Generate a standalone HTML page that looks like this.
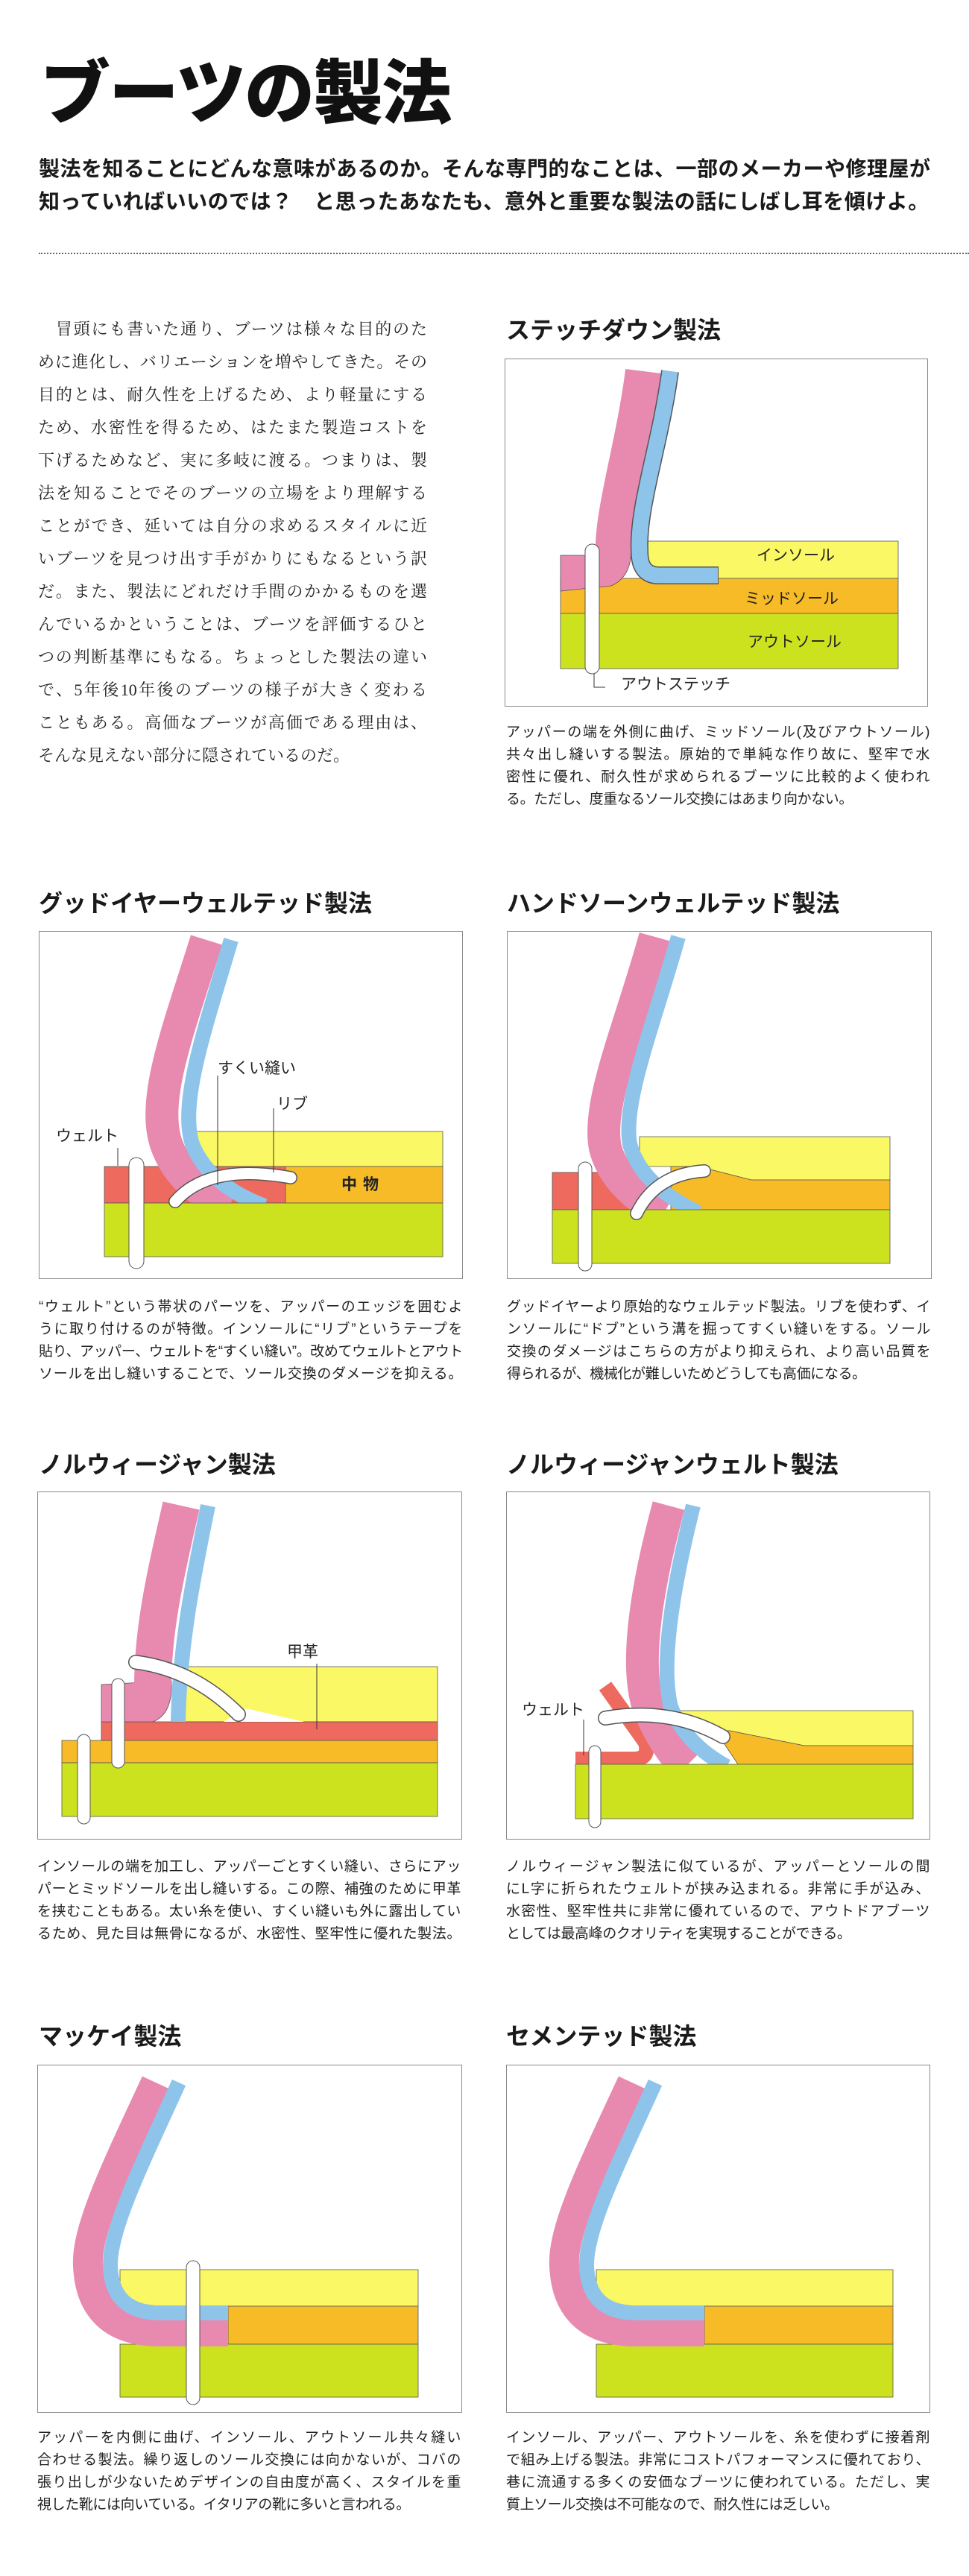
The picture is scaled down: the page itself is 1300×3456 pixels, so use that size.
<!DOCTYPE html>
<html><head><meta charset="utf-8">
<style>
*{margin:0;padding:0;box-sizing:border-box}
body{width:1300px;height:3456px;background:#fff;position:relative;overflow:hidden;font-family:"Liberation Sans","Noto Sans CJK JP",sans-serif;color:#222}
.a{position:absolute;white-space:nowrap}
.title{left:54px;top:76px;font-size:94px;line-height:100px;font-weight:900;color:#111;letter-spacing:-2px}
.sub{left:52px;top:205px;font-size:28px;line-height:44px;font-weight:700;color:#1a1a1a;letter-spacing:0.5px}
.dots{position:absolute;left:52px;top:339px;width:1248px;border-top:2px dotted #666}
.body{left:51px;top:420px;width:522px;font-family:"Liberation Serif","Noto Serif CJK SC",serif;font-size:22px;line-height:44px;color:#222}
.body div,.cap div{text-align:justify;text-align-last:justify;white-space:nowrap}
.body div.l,.cap div.l{text-align-last:left}
.h{font-size:32px;line-height:40px;font-weight:700;color:#1a1a1a}
.cap{width:568px;font-size:19px;line-height:30px;color:#222;letter-spacing:-0.4px}
.box{position:absolute;border:1.5px solid #8a8a8a;background:#fff}
.lb{position:absolute;font-size:21px;line-height:24px;color:#222;white-space:nowrap}
</style></head><body>

<div class="a title">ブーツの製法</div>
<div class="a sub">製法を知ることにどんな意味があるのか。そんな専門的なことは、一部のメーカーや修理屋が<br>知っていればいいのでは？　と思ったあなたも、意外と重要な製法の話にしばし耳を傾けよ。</div>
<div class="dots"></div>

<div class="a body">
<div>　冒頭にも書いた通り、ブーツは様々な目的のた</div>
<div>めに進化し、バリエーションを増やしてきた。その</div>
<div>目的とは、耐久性を上げるため、より軽量にする</div>
<div>ため、水密性を得るため、はたまた製造コストを</div>
<div>下げるためなど、実に多岐に渡る。つまりは、製</div>
<div>法を知ることでそのブーツの立場をより理解する</div>
<div>ことができ、延いては自分の求めるスタイルに近</div>
<div>いブーツを見つけ出す手がかりにもなるという訳</div>
<div>だ。また、製法にどれだけ手間のかかるものを選</div>
<div>んでいるかということは、ブーツを評価するひと</div>
<div>つの判断基準にもなる。ちょっとした製法の違い</div>
<div>で、5年後10年後のブーツの様子が大きく変わる</div>
<div>こともある。高価なブーツが高価である理由は、</div>
<div class="l">そんな見えない部分に隠されているのだ。</div>
</div>

<div class="a h" style="left:679px;top:423px">ステッチダウン製法</div>
<div class="a h" style="left:52px;top:1192px">グッドイヤーウェルテッド製法</div>
<div class="a h" style="left:680px;top:1192px">ハンドソーンウェルテッド製法</div>
<div class="a h" style="left:52px;top:1945px">ノルウィージャン製法</div>
<div class="a h" style="left:679px;top:1945px">ノルウィージャンウェルト製法</div>
<div class="a h" style="left:52px;top:2712px">マッケイ製法</div>
<div class="a h" style="left:679px;top:2712px">セメンテッド製法</div>

<div class="box" style="left:677px;top:481px;width:568px;height:467px"></div>
<div class="box" style="left:52px;top:1249px;width:569px;height:467px"></div>
<div class="box" style="left:680px;top:1249px;width:570px;height:467px"></div>
<div class="box" style="left:50px;top:2001px;width:570px;height:467px"></div>
<div class="box" style="left:679px;top:2001px;width:569px;height:467px"></div>
<div class="box" style="left:50px;top:2770px;width:570px;height:467px"></div>
<div class="box" style="left:679px;top:2770px;width:569px;height:467px"></div>

<svg width="1300" height="3456" style="position:absolute;left:0;top:0" xmlns="http://www.w3.org/2000/svg">
<g stroke="#555" stroke-width="0.8">
<rect x="866" y="726" width="339" height="50" fill="#fbf865"/>
<rect x="752" y="776" width="453" height="47" fill="#f7bb27"/>
<rect x="752" y="823" width="453" height="74" fill="#cde21f"/>
<path d="M752,745 L805,745 L846,722 Q852,772 820,786 L752,793 Z" fill="#e889b0"/>
</g>
<path d="M863,498 C850,600 820,690 823,745" stroke="#e889b0" stroke-width="48" fill="none"/>
<path d="M899,498 C885,600 855,680 858,740 Q858,772 884,772 L964,772" stroke="#555" stroke-width="24" fill="none"/>
<path d="M899,498 C885,600 855,680 858,740 Q858,772 884,772 L963,772" stroke="#8ec4ea" stroke-width="21" fill="none"/>
<rect x="785" y="730" width="19" height="174" rx="9.5" fill="#fff" stroke="#555"/>
<polyline points="797,904 797,922 812,922" stroke="#333" fill="none"/>

<g stroke="#555" stroke-width="0.8">
<rect x="250" y="1518" width="344" height="47" fill="#fbf865"/>
<rect x="140" y="1565" width="268" height="49" fill="#ee6a5e"/>
<rect x="383" y="1565" width="211" height="49" fill="#f7bb27"/>
</g>
<path d="M277,1261 C240,1380 200,1480 225,1540 Q245,1590 308,1618" stroke="#e889b0" stroke-width="44" fill="none"/>
<path d="M310,1261 C275,1380 240,1480 258,1535 Q280,1590 355,1618" stroke="#8ec4ea" stroke-width="20" fill="none"/>
<rect x="140" y="1614" width="454" height="72" fill="#cde21f" stroke="#555" stroke-width="0.8"/>
<path d="M235,1612 Q280,1560 390,1580" stroke="#555" stroke-width="18" stroke-linecap="round" fill="none"/>
<path d="M235,1612 Q280,1560 390,1580" stroke="#fff" stroke-width="15" stroke-linecap="round" fill="none"/>
<rect x="173" y="1553" width="20" height="149" rx="10" fill="#fff" stroke="#555"/>
<g stroke="#333" stroke-width="1"><line x1="292" y1="1443" x2="292" y2="1590"/><line x1="367" y1="1487" x2="367" y2="1573"/><line x1="158" y1="1540" x2="158" y2="1564"/></g>

<g stroke="#555" stroke-width="0.8">
<polygon points="858,1525 1194,1525 1194,1583 1008,1583 937,1565 858,1565" fill="#fbf865"/>
<polygon points="900,1565 937,1565 1008,1583 1194,1583 1194,1623 900,1623" fill="#f7bb27"/>
<rect x="741" y="1573" width="134" height="50" fill="#ee6a5e"/>
</g>
<path d="M879,1257 C845,1380 800,1480 812,1540 Q825,1590 891,1627" stroke="#e889b0" stroke-width="44" fill="none"/>
<path d="M910,1257 C875,1380 835,1480 845,1535 Q860,1590 937,1627" stroke="#8ec4ea" stroke-width="20" fill="none"/>
<rect x="741" y="1623" width="453" height="72" fill="#cde21f" stroke="#555" stroke-width="0.8"/>
<path d="M854,1628 Q880,1575 945,1571" stroke="#555" stroke-width="18" stroke-linecap="round" fill="none"/>
<path d="M854,1628 Q880,1575 945,1571" stroke="#fff" stroke-width="15" stroke-linecap="round" fill="none"/>
<rect x="776" y="1559" width="18" height="146" rx="9" fill="#fff" stroke="#555"/>

<g stroke="#555" stroke-width="0.8">
<rect x="246" y="2236" width="341" height="74" fill="#fbf865"/>
<rect x="136" y="2310" width="451" height="25" fill="#ee6a5e"/>
<rect x="83" y="2335" width="504" height="30" fill="#f7bb27"/>
<rect x="83" y="2365" width="504" height="72" fill="#cde21f"/>
<path d="M136,2260 L230,2255 Q232,2300 205,2310 L136,2310 Z" fill="#e889b0"/>
</g>
<path d="M243,2020 C225,2100 205,2180 205,2262" stroke="#e889b0" stroke-width="50" fill="none"/>
<path d="M279,2020 C263,2100 241,2200 239,2310" stroke="#8ec4ea" stroke-width="20" fill="none"/>
<polygon points="300,2310 330,2292 408,2310" fill="#fff"/>
<path d="M182,2230 Q260,2240 320,2300" stroke="#555" stroke-width="20" stroke-linecap="round" fill="none"/>
<path d="M182,2230 Q260,2240 320,2300" stroke="#fff" stroke-width="17" stroke-linecap="round" fill="none"/>
<rect x="150" y="2252" width="17" height="120" rx="8.5" fill="#fff" stroke="#555"/>
<rect x="104" y="2327" width="17" height="120" rx="8.5" fill="#fff" stroke="#555"/>
<line x1="425" y1="2232" x2="425" y2="2320" stroke="#333"/>

<g stroke="#555" stroke-width="0.8">
<polygon points="904,2295 1225,2295 1225,2342 1079,2342 979,2322 904,2322" fill="#fbf865"/>
<polygon points="960,2322 979,2322 1079,2342 1225,2342 1225,2367 990,2367" fill="#f7bb27"/>
</g>
<path d="M812,2262 L866,2338 Q872,2360 850,2360 L772,2360" stroke="#ee6a5e" stroke-width="20" fill="none"/>
<path d="M897,2020 C870,2120 850,2230 870,2290 Q890,2340 920,2370" stroke="#e889b0" stroke-width="44" fill="none"/>
<path d="M930,2020 C905,2120 885,2230 900,2290 Q920,2340 975,2370" stroke="#8ec4ea" stroke-width="20" fill="none"/>
<rect x="772" y="2367" width="453" height="73" fill="#cde21f" stroke="#555" stroke-width="0.8"/>
<path d="M812,2305 Q900,2290 970,2330" stroke="#555" stroke-width="20" stroke-linecap="round" fill="none"/>
<path d="M812,2305 Q900,2290 970,2330" stroke="#fff" stroke-width="17" stroke-linecap="round" fill="none"/>
<rect x="790" y="2342" width="16" height="110" rx="8" fill="#fff" stroke="#555"/>
<line x1="783" y1="2307" x2="783" y2="2355" stroke="#333"/>

<!-- Mackay -->
<g stroke="#555" stroke-width="0.8">
<rect x="161" y="3045" width="400" height="49" fill="#fbf865"/>
<rect x="306" y="3094" width="255" height="51" fill="#f7bb27"/>
<rect x="161" y="3145" width="400" height="71" fill="#cde21f"/>
</g>
<path d="M209,2794 C160,2900 115,2990 118,3040 Q122,3128 215,3128 L306,3128" stroke="#e889b0" stroke-width="40" fill="none"/>
<path d="M240,2794 C192,2900 147,2990 148,3040 Q150,3103 215,3103 L306,3103" stroke="#8ec4ea" stroke-width="20" fill="none"/>
<rect x="250" y="3033" width="18" height="193" rx="9" fill="#fff" stroke="#555"/>

<!-- Cemented -->
<g stroke="#555" stroke-width="0.8">
<rect x="800" y="3045" width="398" height="49" fill="#fbf865"/>
<rect x="945" y="3094" width="253" height="51" fill="#f7bb27"/>
<rect x="800" y="3145" width="398" height="71" fill="#cde21f"/>
</g>
<path d="M848,2794 C799,2900 754,2990 757,3040 Q761,3128 854,3128 L945,3128" stroke="#e889b0" stroke-width="40" fill="none"/>
<path d="M879,2794 C831,2900 786,2990 787,3040 Q789,3103 854,3103 L945,3103" stroke="#8ec4ea" stroke-width="20" fill="none"/>
</svg>

<div class="lb" style="left:1015px;top:734px">インソール</div>
<div class="lb" style="left:999px;top:792px">ミッドソール</div>
<div class="lb" style="left:1003px;top:850px">アウトソール</div>
<div class="lb" style="left:833px;top:907px">アウトステッチ</div>
<div class="lb" style="left:292px;top:1422px">すくい縫い</div>
<div class="lb" style="left:371px;top:1470px">リブ</div>
<div class="lb" style="left:75px;top:1513px">ウェルト</div>
<div class="lb" style="left:458px;top:1578px;font-weight:700;letter-spacing:8px">中物</div>
<div class="lb" style="left:385px;top:2205px">甲革</div>
<div class="lb" style="left:700px;top:2283px">ウェルト</div>

<div class="a cap" style="left:679px;top:968px">
<div>アッパーの端を外側に曲げ、ミッドソール(及びアウトソール)</div>
<div>共々出し縫いする製法。原始的で単純な作り故に、堅牢で水</div>
<div>密性に優れ、耐久性が求められるブーツに比較的よく使われ</div>
<div class="l">る。ただし、度重なるソール交換にはあまり向かない。</div>
</div>
<div class="a cap" style="left:52px;top:1739px">
<div>“ウェルト”という帯状のパーツを、アッパーのエッジを囲むよ</div>
<div>うに取り付けるのが特徴。インソールに“リブ”というテープを</div>
<div>貼り、アッパー、ウェルトを“すくい縫い”。改めてウェルトとアウト</div>
<div>ソールを出し縫いすることで、ソール交換のダメージを抑える。</div>
</div>
<div class="a cap" style="left:680px;top:1739px">
<div>グッドイヤーより原始的なウェルテッド製法。リブを使わず、イ</div>
<div>ンソールに“ドブ”という溝を掘ってすくい縫いをする。ソール</div>
<div>交換のダメージはこちらの方がより抑えられ、より高い品質を</div>
<div class="l">得られるが、機械化が難しいためどうしても高価になる。</div>
</div>
<div class="a cap" style="left:50px;top:2490px">
<div>インソールの端を加工し、アッパーごとすくい縫い、さらにアッ</div>
<div>パーとミッドソールを出し縫いする。この際、補強のために甲革</div>
<div>を挟むこともある。太い糸を使い、すくい縫いも外に露出してい</div>
<div>るため、見た目は無骨になるが、水密性、堅牢性に優れた製法。</div>
</div>
<div class="a cap" style="left:679px;top:2490px">
<div>ノルウィージャン製法に似ているが、アッパーとソールの間</div>
<div>にL字に折られたウェルトが挟み込まれる。非常に手が込み、</div>
<div>水密性、堅牢性共に非常に優れているので、アウトドアブーツ</div>
<div class="l">としては最高峰のクオリティを実現することができる。</div>
</div>
<div class="a cap" style="left:50px;top:3256px">
<div>アッパーを内側に曲げ、インソール、アウトソール共々縫い</div>
<div>合わせる製法。繰り返しのソール交換には向かないが、コバの</div>
<div>張り出しが少ないためデザインの自由度が高く、スタイルを重</div>
<div class="l">視した靴には向いている。イタリアの靴に多いと言われる。</div>
</div>
<div class="a cap" style="left:679px;top:3256px">
<div>インソール、アッパー、アウトソールを、糸を使わずに接着剤</div>
<div>で組み上げる製法。非常にコストパフォーマンスに優れており、</div>
<div>巷に流通する多くの安価なブーツに使われている。ただし、実</div>
<div class="l">質上ソール交換は不可能なので、耐久性には乏しい。</div>
</div>
</body></html>
